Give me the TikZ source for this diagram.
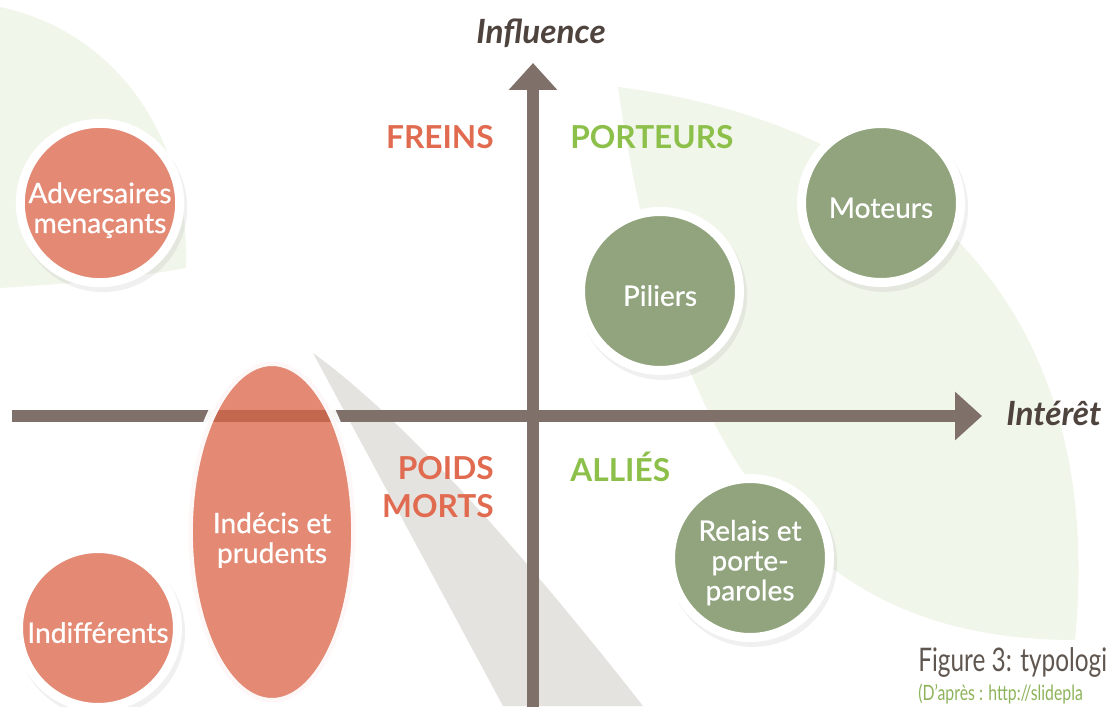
\documentclass[tikz,border=0pt]{standalone}
\usepackage{fontspec}
\setmainfont{Lato}
\newfontfamily\actorfont{Lato}[FakeBold=0.7]
\usetikzlibrary{positioning, shapes.geometric, shadows, arrows.meta}

\definecolor{leafgreen}{HTML}{F1F6EA}
\definecolor{wedgegray}{HTML}{E4E3DF}
\definecolor{axisbrown}{HTML}{7F7169}
\definecolor{titlebrown}{HTML}{4E433D}
\definecolor{freinred}{HTML}{E16B50}
\definecolor{porteurgreen}{HTML}{8CC04A}
\definecolor{salmon}{HTML}{E38974}
\definecolor{sage}{HTML}{91A47D}
\definecolor{indecisred}{HTML}{DA6448}
\definecolor{captiongreen}{HTML}{8DB35A}

% strut that pushes the first line of a label down
\newcommand{\lift}[1]{\rule{0pt}{#1}}

\begin{document}
\begin{tikzpicture}[x=0.02cm, y=-0.02cm,
    actor/.style={shape=circle, draw=white, line width=0.18cm, minimum size=3.18cm, inner sep=0pt, text=white, align=center, font=\actorfont\fontsize{16}{17}\selectfont, drop shadow={shadow xshift=1.5pt, shadow yshift=-2.5pt, opacity=0.12, shadow scale=1.06}},
    quadrant/.style={font=\fontsize{18}{21.5}\selectfont\bfseries, inner sep=0pt},
    axislabel/.style={font=\fontsize{19}{20}\selectfont\bfseries\itshape, text=titlebrown, inner sep=0pt},
    axis/.style={draw=axisbrown, line width=0.24cm, -{Triangle[length=0.54cm, width=0.94cm]}}]
    \useasboundingbox (0,0) rectangle (1111,706);
    \clip (0,0) rectangle (1111,706);

    % background leaves
    \fill[leafgreen] (0,7) .. controls (110,30) and (190,130) .. (186,268) .. controls (120,280) and (50,285) .. (0,288) -- cycle;
    \fill[leafgreen] (618,87) .. controls (880,120) and (1110,280) .. (1075,640) .. controls (850,640) and (680,520) .. (618,87) -- cycle;
    \fill[wedgegray] (313,353) .. controls (420,430) and (560,600) .. (643,706) -- (503,706) -- cycle;

    % axes
    \coordinate (xstart) at (12,416);
    \coordinate (xtip) at (982,416);
    \coordinate (ystart) at (533,712);
    \coordinate (ytip) at (533,63);
    \draw[axis] (xstart) -- (xtip);
    \draw[axis] (ystart) -- (ytip);

    \node[axislabel] (influence) at (541,33) {Influence};
    \node[axislabel, anchor=west] (interet) at (1006,413) {Intérêt};

    \node[quadrant, text=freinred, anchor=east] (freins) at (494,137) {FREINS};
    \node[quadrant, text=porteurgreen, anchor=west] (porteurs) at (570,137) {PORTEURS};
    \node[quadrant, text=freinred, anchor=east, align=right] (poids) at (494,487) {POIDS\\MORTS};
    \node[quadrant, text=porteurgreen, anchor=west] (allies) at (570,467) {ALLIÉS};

    % actors
    \node[actor, fill=salmon] (adversaires) at (100,203) {\lift{20pt}Adversaires\\menaçants};
    \node[actor, fill=sage] (moteurs) at (881,203) {\lift{17pt}Moteurs};
    \node[actor, fill=sage] (piliers) at (660,291) {\lift{17pt}Piliers};
    \node[actor, fill=sage] (relais) at (750,558) {\lift{17pt}Relais et\\porte-\\paroles};
    \node[actor, fill=salmon] (indifferents) at (98,628) {\lift{17pt}Indifférents};
    \node[shape=ellipse, draw=white, draw opacity=0.95, fill=indecisred, fill opacity=0.76, text opacity=1, text=white, line width=0.18cm, minimum width=3.3cm, minimum height=6.82cm, inner sep=0pt, align=center, font=\actorfont\fontsize{16}{17}\selectfont] (indecis) at (272,532) {\lift{21pt}Indécis et\\prudents};

    % caption
    \node[anchor=base west, text=titlebrown!90, font=\fontsize{18.5}{20}\selectfont, inner sep=0pt] (caption) at (918,671) {\scalebox{0.75}[1]{Figure 3: typologi}};
    \node[anchor=base west, text=captiongreen, font=\fontsize{12}{13}\selectfont, inner sep=0pt] (source) at (918,700) {\scalebox{0.75}[1]{(D'après : http://slidepla}};
\end{tikzpicture}
\end{document}
